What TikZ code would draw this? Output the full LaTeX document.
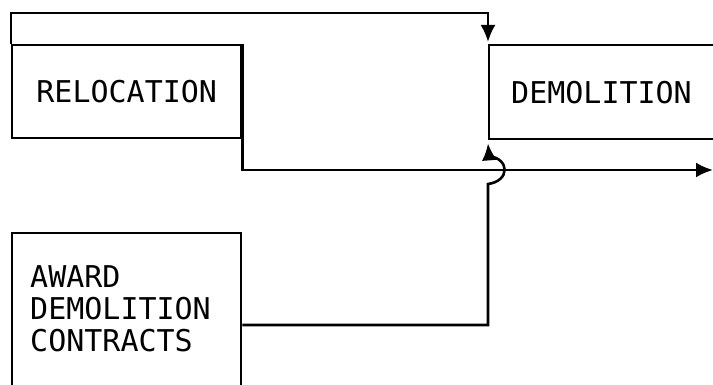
\documentclass[tikz,border=0pt]{standalone}
\usepackage{fontspec}
\newfontfamily\boxfont{DejaVu Sans Mono}
\usetikzlibrary{arrows.meta,calc}
\begin{document}
\begin{tikzpicture}[x=1pt,y=1pt,
  stage/.style={draw, line width=2.4pt, rectangle, inner sep=0pt,
    font=\boxfont\fontsize{30}{32}\selectfont},
  flow/.style={line width=2.6pt, line join=miter},
  flowtip/.style={flow, -{Latex[length=17pt,width=15pt]}},
  caption/.style={inner sep=0pt, align=left,
    font=\boxfont\fontsize{30}{32}\selectfont}]
  \useasboundingbox (0,0) rectangle (713,-385);
  \fill[white] (0,0) rectangle (713,-385);

  % activity boxes
  \node[stage, anchor=north west, minimum width=229pt, minimum height=93pt]
    (reloc) at (11,-44) {RELOCATION};
  \node[stage, anchor=north west, minimum height=94pt, inner xsep=22pt,
    text width=200pt, align=left] (demo) at (488,-44) {DEMOLITION};
  \node[stage, anchor=north west, minimum width=229pt, minimum height=200pt]
    (award) at (11,-232) {};
  \node[caption, anchor=west] (awardtext) at (30,-309)
    {AWARD\\DEMOLITION\\CONTRACTS};

  % free ends and bend points
  \coordinate (out) at (713,-170);
  \coordinate (awardout) at ($(award.north east)+(0,-93)$);
  \coordinate (hopstart) at (488,-184);
  \coordinate (hopend) at (489,-156);
  \coordinate (demoin) at ($(demo.south west)+(0,-3)$);

  % control: from relocation over the top into demolition
  \draw[flowtip] (reloc.north west) -- ++(0,31) -| ($(demo.north west)+(0,2)$);

  % output of relocation running off to the right
  \draw[flowtip] (reloc.north east) -- ++(0,-126) -- (out);

  % contracts feed demolition, hopping over the output line
  \draw[flow] (awardout) -| (hopstart)
    .. controls (510,-181) and (510,-159) .. (hopend);
  \draw[flowtip] (hopend) -- (demoin);
\end{tikzpicture}
\end{document}
